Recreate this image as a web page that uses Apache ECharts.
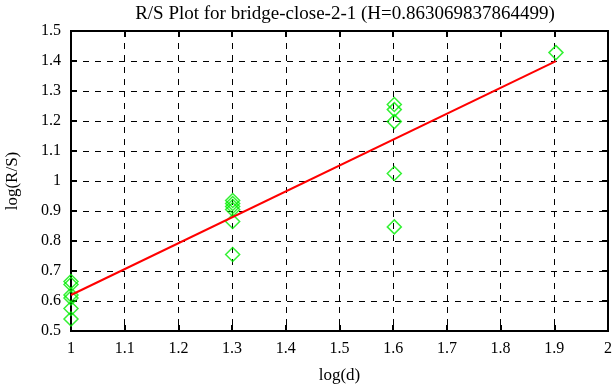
<!DOCTYPE html>
<html>
<head>
<meta charset="utf-8">
<script src="https://cdn.jsdelivr.net/npm/echarts@6/dist/echarts.min.js"></script>
<style>html,body{margin:0;padding:0;background:#fff}#c{width:616px;height:387px}</style>
</head>
<body>
<div id="c"></div>
<script>
const titleText = 'R/S Plot for bridge-close-2-1 (H=0.863069837864499)';
const logD = [1, 1, 1, 1, 1, 1,
              1.30103, 1.30103, 1.30103, 1.30103, 1.30103, 1.30103,
              1.60206, 1.60206, 1.60206, 1.60206, 1.60206,
              1.90309];
const logRS = [0.665, 0.655, 0.62, 0.61, 0.575, 0.54,
               0.935, 0.925, 0.915, 0.905, 0.865, 0.755,
               1.255, 1.238, 1.198, 1.025, 0.847,
               1.428];
const H = 0.863069837864499;
const intercept = -0.243;
const fitX = [1, 1.90309];

const pts = logD.map((x, i) => [x, logRS[i]]);
const fit = fitX.map(x => [x, intercept + H * x]);

const font = '"Liberation Serif", "DejaVu Serif", serif';
const chart = echarts.init(document.getElementById('c'), null, {renderer: 'canvas'});
const gridLine = {show: true, lineStyle: {color: '#000', type: [6, 6], width: 1}};
chart.setOption({
  animation: false,
  title: {text: titleText, left: 340, textAlign: 'center', top: 0,
    textStyle: {fontFamily: font, fontSize: 19, fontWeight: 'normal', color: '#000'}},
  grid: {left: 71, right: 8, top: 31, bottom: 56, show: true, borderColor: '#000', borderWidth: 2,
    containLabel: false, outerBoundsMode: 'none'},
  xAxis: [{
    type: 'value', min: 1, max: 2, interval: 0.1, position: 'bottom',
    name: 'log(d)', nameLocation: 'middle', nameGap: 36,
    nameTextStyle: {fontFamily: font, fontSize: 17, color: '#000'},
    axisLine: {show: true, lineStyle: {color: '#000', width: 2}},
    axisTick: {show: true, inside: true, length: 6, lineStyle: {color: '#000', width: 2}},
    axisLabel: {fontFamily: font, fontSize: 16, color: '#000', margin: 10},
    splitLine: gridLine
  }, {
    type: 'value', min: 1, max: 2, interval: 0.1, position: 'top',
    axisLine: {show: true, lineStyle: {color: '#000', width: 2}},
    axisTick: {show: true, inside: true, length: 6, lineStyle: {color: '#000', width: 2}},
    axisLabel: {show: false}, splitLine: {show: false}
  }],
  yAxis: [{
    type: 'value', min: 0.5, max: 1.5, interval: 0.1, position: 'left',
    name: 'log(R/S)', nameLocation: 'middle', nameGap: 50, nameRotate: 90,
    nameTextStyle: {fontFamily: font, fontSize: 17, color: '#000'},
    axisLine: {show: true, lineStyle: {color: '#000', width: 2}},
    axisTick: {show: true, inside: true, length: 6, lineStyle: {color: '#000', width: 2}},
    axisLabel: {fontFamily: font, fontSize: 16, color: '#000', margin: 10},
    splitLine: gridLine
  }, {
    type: 'value', min: 0.5, max: 1.5, interval: 0.1, position: 'right',
    axisLine: {show: true, lineStyle: {color: '#000', width: 2}},
    axisTick: {show: true, inside: true, length: 6, lineStyle: {color: '#000', width: 2}},
    axisLabel: {show: false}, splitLine: {show: false}
  }],
  series: [{
    type: 'scatter', data: pts, symbol: 'diamond', symbolSize: [14, 14],
    itemStyle: {color: 'rgba(0,0,0,0)', borderColor: '#00ee00', borderWidth: 1.5},
    z: 3
  }, {
    type: 'line', data: fit, showSymbol: false, symbol: 'none',
    lineStyle: {color: '#ff0000', width: 2}, z: 4
  }]
});
</script>
</body>
</html>
